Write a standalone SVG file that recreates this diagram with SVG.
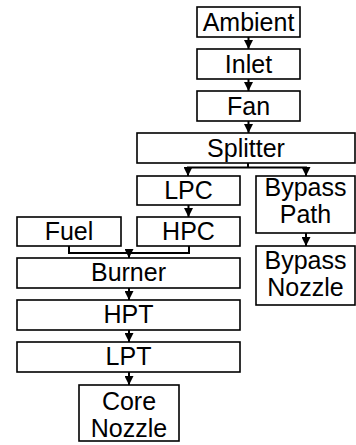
<svg xmlns="http://www.w3.org/2000/svg" width="356" height="445" viewBox="0 0 356 445">
<defs>
<style>
.box{fill:#fff;stroke:#000;stroke-width:1.6}
.t{font-family:"Liberation Sans",Arial,sans-serif;font-size:25px;fill:#000;text-anchor:middle}
.c{fill:none;stroke:#000;stroke-width:2}
</style>
<marker id="ah" viewBox="0 0 10 10" refX="10" refY="5" markerWidth="9" markerHeight="9" markerUnits="userSpaceOnUse" orient="auto">
<path d="M0,0 L10,5 L0,10 Z" fill="#000"/>
</marker>
</defs>
<g id="connectors">
<line class="c" x1="248.5" y1="37" x2="248.5" y2="49" marker-end="url(#ah)"/>
<line class="c" x1="248.5" y1="79" x2="248.5" y2="91" marker-end="url(#ah)"/>
<line class="c" x1="248.5" y1="121" x2="248.5" y2="133" marker-end="url(#ah)"/>
<polyline class="c" points="248,163 248,167.5"/>
<line class="c" x1="187" y1="167.5" x2="307" y2="167.5"/>
<line class="c" x1="188" y1="167" x2="188" y2="176" marker-end="url(#ah)"/>
<line class="c" x1="306" y1="167" x2="306" y2="176" marker-end="url(#ah)"/>
<line class="c" x1="188.5" y1="205" x2="188.5" y2="217" marker-end="url(#ah)"/>
<line class="c" x1="306" y1="233" x2="306" y2="246" marker-end="url(#ah)"/>
<polyline class="c" points="69,246 69,253 189,253 189,246"/>
<line class="c" x1="129" y1="253" x2="129" y2="258" marker-end="url(#ah)"/>
<line class="c" x1="129" y1="288" x2="129" y2="300" marker-end="url(#ah)"/>
<line class="c" x1="129" y1="330" x2="129" y2="342" marker-end="url(#ah)"/>
<line class="c" x1="129" y1="372" x2="129" y2="385" marker-end="url(#ah)"/>
</g>
<g id="ambient"><rect class="box" x="197" y="7" width="103" height="30"/><text class="t" x="248.5" y="31">Ambient</text></g>
<g id="inlet"><rect class="box" x="197" y="49" width="103" height="30"/><text class="t" x="248.5" y="73">Inlet</text></g>
<g id="fan"><rect class="box" x="197" y="91" width="103" height="30"/><text class="t" x="248.5" y="115">Fan</text></g>
<g id="splitter"><rect class="box" x="137" y="133" width="218" height="30"/><text class="t" x="246" y="157">Splitter</text></g>
<g id="lpc"><rect class="box" x="137" y="176" width="103" height="29"/><text class="t" x="188.5" y="199">LPC</text></g>
<g id="bypass-path"><rect class="box" x="256" y="176" width="99" height="57"/><text class="t" x="305.5" y="196">Bypass</text><text class="t" x="305.5" y="223">Path</text></g>
<g id="fuel"><rect class="box" x="17" y="217" width="104" height="29"/><text class="t" x="69" y="240">Fuel</text></g>
<g id="hpc"><rect class="box" x="137" y="217" width="103" height="29"/><text class="t" x="188.5" y="240">HPC</text></g>
<g id="bypass-nozzle"><rect class="box" x="256" y="246" width="99" height="59"/><text class="t" x="305.5" y="269">Bypass</text><text class="t" x="305.5" y="296">Nozzle</text></g>
<g id="burner"><rect class="box" x="17" y="258" width="223" height="30"/><text class="t" x="128.5" y="281">Burner</text></g>
<g id="hpt"><rect class="box" x="17" y="300" width="223" height="30"/><text class="t" x="128.5" y="323">HPT</text></g>
<g id="lpt"><rect class="box" x="17" y="342" width="223" height="30"/><text class="t" x="128.5" y="365">LPT</text></g>
<g id="core-nozzle"><rect class="box" x="79" y="385" width="100" height="56"/><text class="t" x="129" y="410">Core</text><text class="t" x="129" y="437">Nozzle</text></g>
</svg>
